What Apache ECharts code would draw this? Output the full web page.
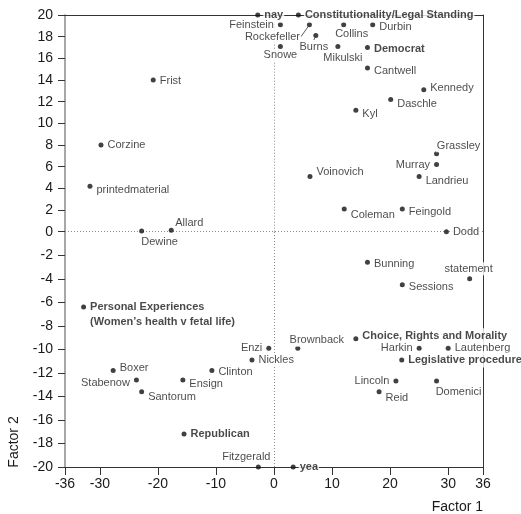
<!DOCTYPE html>
<html>
<head>
<meta charset="utf-8">
<script src="https://cdn.jsdelivr.net/npm/echarts@6/dist/echarts.min.js"></script>
<style>
  html, body { margin: 0; padding: 0; background: #fff; }
  #chart { width: 521px; height: 514px; }
</style>
</head>
<body>
<div id="chart"></div>
<script>
// Factor scores: senators, party/vote markers and coded themes
const names = [
  'nay', 'Constitutionality/Legal Standing', 'Feinstein', 'Rockefeller', 'Burns', 'Snowe',
  'Collins', 'Durbin', 'Mikulski', 'Democrat', 'Cantwell', 'Kennedy', 'Daschle', 'Kyl',
  'Frist', 'Corzine', 'Grassley', 'Murray', 'Landrieu', 'printedmaterial', 'Voinovich',
  'Coleman', 'Feingold', 'Allard', 'Dewine', 'Dodd', 'Bunning', 'statement', 'Sessions',
  'Personal Experiences\n(Women\u2019s health v fetal life)', 'Enzi', 'Brownback', 'Nickles',
  'Choice, Rights and Morality', 'Harkin', 'Lautenberg', 'Legislative procedure',
  'Boxer', 'Clinton', 'Stabenow', 'Ensign', 'Santorum', 'Lincoln', 'Domenici', 'Reid',
  'Republican', 'Fitzgerald', 'yea'
];
const factor1 = [
  -2.8, 4.2, 1.1, 6.1, 7.2, 1.1,
  12.0, 17.0, 11.0, 16.1, 16.1, 25.8, 20.1, 14.1,
  -20.8, -29.8, 28.0, 28.0, 25.0, -31.7, 6.2,
  12.1, 22.1, -17.7, -22.8, 29.7, 16.1, 33.7, 22.1,
  -32.8, -0.9, 4.1, -3.8,
  14.1, 25.0, 30.0, 22.0,
  -27.7, -10.7, -23.7, -15.7, -22.8, 21.0, 28.0, 18.1,
  -15.5, -2.7, 3.3
];
const factor2 = [
  20, 20, 19.1, 19.1, 18.1, 17.1,
  19.1, 19.1, 17.1, 17.0, 15.1, 13.1, 12.2, 11.2,
  14.0, 8.0, 7.2, 6.2, 5.1, 4.2, 5.1,
  2.1, 2.1, 0.13, 0.06, 0, -2.6, -4.0, -4.5,
  -6.4, -9.9, -9.9, -10.9,
  -9.1, -9.9, -9.9, -10.9,
  -11.8, -11.8, -12.6, -12.6, -13.6, -12.7, -12.7, -13.6,
  -17.2, -20, -20
];
const xTicks = [-36, -30, -20, -10, 0, 10, 20, 30, 36];

// Bold entries are the non-senator markers
const boldNames = new Set([
  'nay', 'yea', 'Democrat', 'Republican', 'Constitutionality/Legal Standing',
  'Personal Experiences\n(Women\u2019s health v fetal life)',
  'Choice, Rights and Morality', 'Legislative procedure'
]);

// Label placement: [position, dx, dy]
const labelPlace = {
  'nay': ['right', 0, 0],
  'Constitutionality/Legal Standing': ['right', 0, 0],
  'Feinstein': ['left', 0, 0],
  'Rockefeller': ['inside', -37, 12],
  'Burns': ['inside', -2, 11],
  'Snowe': ['inside', 0, 9],
  'Collins': ['inside', 8, 9],
  'Durbin': ['right', 0, 2],
  'Mikulski': ['inside', 5, 11.5],
  'Democrat': ['right', 0, 1],
  'Cantwell': ['right', 0, 3],
  'Kennedy': ['right', 0, -2],
  'Daschle': ['right', 0, 4],
  'Kyl': ['right', 0, 4],
  'Frist': ['right', 0, 1],
  'Corzine': ['right', 0, 0],
  'Grassley': ['inside', 22, -8],
  'Murray': ['left', 0, 0],
  'Landrieu': ['right', 0, 5],
  'printedmaterial': ['right', 0, 4],
  'Voinovich': ['right', 0, -4],
  'Coleman': ['right', 0, 6],
  'Feingold': ['right', 0, 3],
  'Allard': ['inside', 18, -7],
  'Dewine': ['inside', 18, 10.5],
  'Dodd': ['right', 0, 0],
  'Bunning': ['right', 0, 2],
  'statement': ['inside', -1, -10],
  'Sessions': ['right', 0, 2],
  'Personal Experiences\n(Women\u2019s health v fetal life)': ['right', 0, 7.5],
  'Enzi': ['left', 0, 0],
  'Brownback': ['inside', 19, -8],
  'Nickles': ['right', 0, 0],
  'Choice, Rights and Morality': ['right', 0, -3],
  'Harkin': ['left', 0, 0],
  'Lautenberg': ['right', 0, 0],
  'Legislative procedure': ['right', 0, 0],
  'Boxer': ['right', 0, -3],
  'Clinton': ['right', 0, 1],
  'Stabenow': ['left', 0, 3.5],
  'Ensign': ['right', 0, 4],
  'Santorum': ['right', 0, 5],
  'Lincoln': ['left', 0, 0],
  'Domenici': ['inside', 22, 11],
  'Reid': ['right', 0, 6],
  'Republican': ['right', 0, 0],
  'Fitzgerald': ['inside', -12, -10],
  'yea': ['right', 0, 0]
};
// Labels joined to their dot by a short guide line
const withGuide = new Set(['Rockefeller', 'Burns']);

const FONT = '"Liberation Sans", Arial, Helvetica, sans-serif';
const TEXT = '#1a1a1a';

function buildItems(indices) {
  return indices.map(function (i) {
    const n = names[i];
    const bold = boldNames.has(n);
    const it = {
      name: n,
      value: [factor1[i], factor2[i]],
      label: {
        position: labelPlace[n][0],
        fontWeight: bold ? 'bold' : 'normal',
        lineHeight: bold ? 15 : 13
      }
    };
    if (withGuide.has(n)) it.labelLine = { show: true };
    return it;
  });
}

const upperIdx = [], lowerIdx = [];
factor2.forEach(function (v, i) { (v >= 0 ? upperIdx : lowerIdx).push(i); });

function layoutFor(indices) {
  return function (params) {
    const p = labelPlace[names[indices[params.dataIndex]]];
    return { dx: p[1], dy: p[2] };
  };
}

function pointSeries(indices, gi) {
  return {
    type: 'scatter',
    xAxisIndex: gi,
    yAxisIndex: gi,
    z: 3,
    symbol: 'circle',
    symbolSize: 5,
    itemStyle: { color: '#111' },
    label: {
      show: true,
      formatter: '{b}',
      distance: 3,
      fontFamily: FONT,
      fontSize: 11,
      color: TEXT,
      backgroundColor: '#fff',
      padding: [0, 1]
    },
    labelLine: {
      show: false,
      length2: 0,
      smooth: false,
      lineStyle: { color: '#333', width: 0.8 }
    },
    labelLayout: layoutFor(indices),
    emphasis: { disabled: true },
    data: buildItems(indices)
  };
}

const dotted = { type: [1, 2], color: '#8c8c8c', width: 1 };
function zeroLines(gi, lines) {
  return {
    type: 'scatter',
    xAxisIndex: gi,
    yAxisIndex: gi,
    z: 1,
    data: [],
    markLine: {
      z: 1,
      silent: true,
      symbol: ['none', 'none'],
      label: { show: false },
      lineStyle: dotted,
      emphasis: { disabled: true },
      data: lines
    }
  };
}

const frame = { show: true, onZero: false, lineStyle: { color: '#333', width: 1 } };
const leftLine = { show: true, onZero: false, lineStyle: { color: '#8a8a8a', width: 1.5 } };
const tickLabel = { fontFamily: FONT, fontSize: 14, color: TEXT };

const chart = echarts.init(document.getElementById('chart'), null, { renderer: 'canvas' });
chart.setOption({
  animation: false,
  backgroundColor: '#fff',
  grid: [
    { left: 65, right: 38, top: 15, height: 216.7 },
    { left: 65, right: 38, top: 231.7, height: 235.3 }
  ],
  xAxis: [
    {
      gridIndex: 0, type: 'value', position: 'top', min: -36, max: 36,
      axisLine: frame, axisTick: { show: false }, axisLabel: { show: false },
      splitLine: { show: false }
    },
    {
      gridIndex: 1, type: 'value', position: 'bottom', min: -36, max: 36,
      axisLine: frame,
      axisTick: { show: true, inside: false, length: 8, customValues: xTicks, lineStyle: { color: '#333' } },
      axisLabel: Object.assign({ margin: 10, customValues: xTicks }, tickLabel),
      splitLine: { show: false }
    }
  ],
  yAxis: [
    {
      gridIndex: 0, type: 'value', position: 'left', min: 0, max: 20, interval: 2,
      axisLine: leftLine,
      axisTick: { show: true, inside: false, length: 7, lineStyle: { color: '#333' } },
      axisLabel: Object.assign({ margin: 12, showMinLabel: false }, tickLabel),
      splitLine: { show: false }
    },
    {
      gridIndex: 1, type: 'value', position: 'left', min: -20, max: 0, interval: 2,
      axisLine: leftLine,
      axisTick: { show: true, inside: false, length: 7, lineStyle: { color: '#333' } },
      axisLabel: Object.assign({ margin: 12 }, tickLabel),
      splitLine: { show: false }
    },
    {
      gridIndex: 0, type: 'value', position: 'right', min: 0, max: 20,
      axisLine: frame, axisTick: { show: false }, axisLabel: { show: false },
      splitLine: { show: false }
    },
    {
      gridIndex: 1, type: 'value', position: 'right', min: -20, max: 0,
      axisLine: frame, axisTick: { show: false }, axisLabel: { show: false },
      splitLine: { show: false }
    }
  ],
  graphic: [
    {
      type: 'text', right: 38, top: 500,
      style: { text: 'Factor 1', font: '14px ' + FONT, fill: TEXT }
    },
    {
      type: 'text', x: 14, y: 442, rotation: Math.PI / 2,
      style: { text: 'Factor 2', font: '14px ' + FONT, fill: TEXT, align: 'center', verticalAlign: 'middle' }
    }
  ],
  series: [
    zeroLines(0, [{ xAxis: 0 }]),
    zeroLines(1, [{ xAxis: 0 }, { yAxis: 0 }]),
    pointSeries(upperIdx, 0),
    pointSeries(lowerIdx, 1)
  ]
});
</script>
</body>
</html>
